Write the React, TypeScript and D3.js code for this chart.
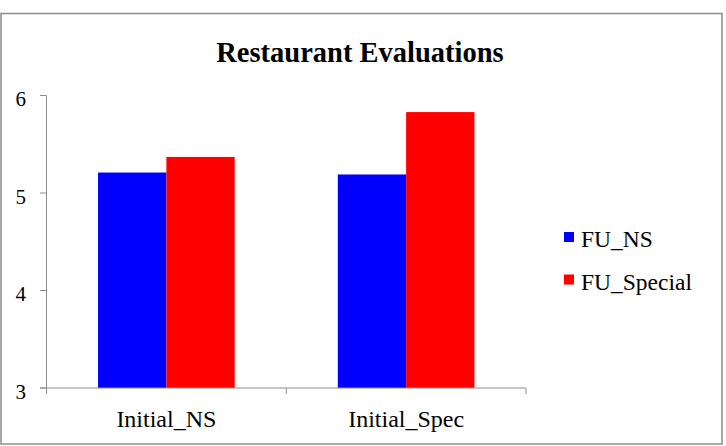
import * as d3 from "d3";

const categories = ["Initial_NS", "Initial_Spec"];
const seriesNames = ["FU_NS", "FU_Special"];
const fuNS = [5.21, 5.19];
const fuSpecial = [5.37, 5.83];
const yTicks = [3, 4, 5, 6];
const colors = ["#0000ff", "#ff0000"];

const width = 726;
const height = 446;

export default function App() {
  const x0 = d3
    .scaleBand()
    .domain(categories)
    .range([46.5, 526])
    .paddingInner(0.43)
    .paddingOuter(0.215);
  const x1 = d3.scaleBand().domain(seriesNames).range([0, x0.bandwidth()]);
  const y = d3.scaleLinear().domain([3, 6]).range([388, 95.5]);
  const values = [fuNS, fuSpecial];
  const edges = d3.scaleBand().domain(categories).range([46.5, 526]);

  return (
    <svg
      width={width}
      height={height}
      style={{ position: "absolute", left: 0, top: 0, fontFamily: "'Liberation Serif', 'Times New Roman', serif" }}
    >
      <rect x={0} y={0} width={width} height={height} fill="#fff" />
      <rect x={1} y={13.5} width={721} height={430.5} fill="#fff" stroke="#8c8c8c" strokeWidth={1.5} />
      <text x={360} y={61.7} textAnchor="middle" fontSize={28.5} fontWeight="bold">
        Restaurant Evaluations
      </text>

      {categories.map((c, i) =>
        seriesNames.map((s, j) => (
          <rect
            key={c + s}
            x={(x0(c) ?? 0) + (x1(s) ?? 0)}
            y={y(values[j][i])}
            width={x1.bandwidth()}
            height={y(3) - y(values[j][i])}
            fill={colors[j]}
          />
        ))
      )}

      {/* y axis */}
      <line x1={46.5} x2={46.5} y1={y(6)} y2={y(3) + 6} stroke="#8c8c8c" />
      {yTicks.map((t) => (
        <g key={t}>
          <line x1={40} x2={46.5} y1={y(t)} y2={y(t)} stroke="#8c8c8c" />
          <text x={26} y={y(t) + 10.5} textAnchor="end" fontSize={21}>
            {t}
          </text>
        </g>
      ))}

      {/* x axis */}
      <line x1={40} x2={526} y1={y(3)} y2={y(3)} stroke="#8c8c8c" />
      {[...categories.map((c) => edges(c) ?? 0), 526].map((px, i) => (
        <line key={i} x1={px} x2={px} y1={y(3)} y2={y(3) + 6} stroke="#8c8c8c" />
      ))}
      {categories.map((c) => (
        <text
          key={c}
          x={(x0(c) ?? 0) + x0.bandwidth() / 2}
          y={427}
          textAnchor="middle"
          fontSize={24}
        >
          {c}
        </text>
      ))}

      {/* legend */}
      {seriesNames.map((s, j) => (
        <g key={s} transform={`translate(564, ${232 + j * 42.5})`}>
          <rect x={0} y={0} width={10} height={10} fill={colors[j]} />
          <text x={17} y={15} fontSize={23.5}>
            {s}
          </text>
        </g>
      ))}
    </svg>
  );
}
